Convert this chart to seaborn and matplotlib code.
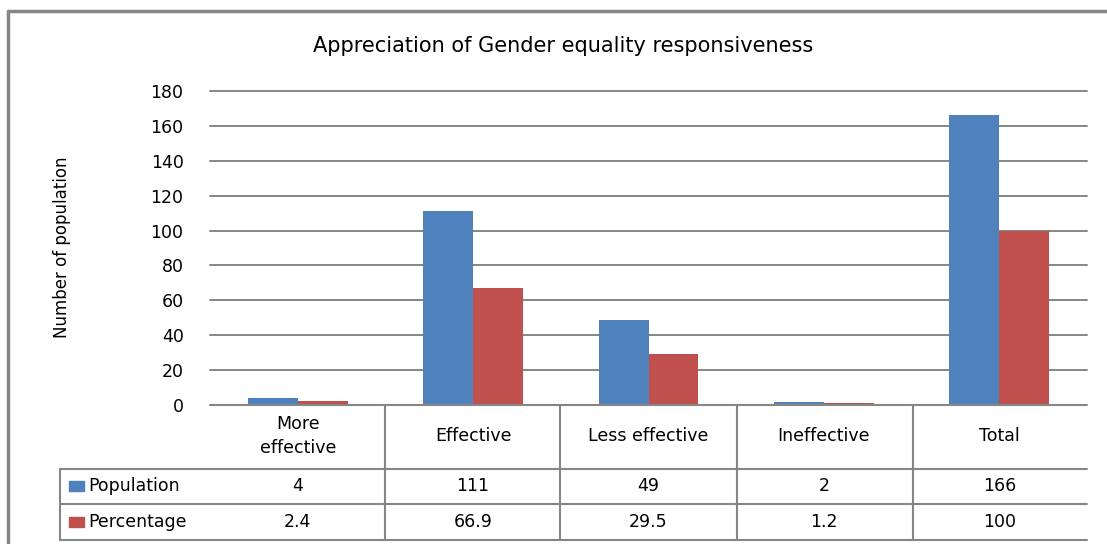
import pandas as pd
import seaborn as sns
import matplotlib
matplotlib.use("Agg")
import matplotlib.pyplot as plt
from matplotlib.lines import Line2D
from matplotlib.patches import Rectangle
import matplotlib.transforms as mtransforms

# Veri
categories = ["More\neffective", "Effective", "Less effective", "Ineffective", "Total"]
population = [4, 111, 49, 2, 166]
percentage = [2.4, 66.9, 29.5, 1.2, 100]
population_labels = ["4", "111", "49", "2", "166"]
percentage_labels = ["2.4", "66.9", "29.5", "1.2", "100"]
series_names = ["Population", "Percentage"]
colors = ["#4F81BD", "#C0504D"]

df = pd.DataFrame({
    "Category": categories * 2,
    "Value": population + percentage,
    "Series": [series_names[0]] * 5 + [series_names[1]] * 5,
})

sns.set_style("white")
plt.rcParams["font.family"] = ["DejaVu Sans"]
plt.rcParams["text.color"] = "black"
plt.rcParams["ytick.color"] = "black"

W, H = 1107, 544
fig = plt.figure(figsize=(W / 100, H / 100), dpi=100)

def fx(x):
    return x / W

def fy(y):
    return 1 - y / H

grid_col = "#868686"

ax = fig.add_axes([fx(210), fy(405), fx(1087) - fx(210), fy(91) - fy(405)])
sns.barplot(data=df, x="Category", y="Value", hue="Series", palette=colors,
            width=0.57, gap=0, saturation=1, legend=False, ax=ax, zorder=3,
            linewidth=0)

ax.set_ylim(0, 180)
ax.set_yticks(range(0, 181, 20))
ax.set_xlim(-0.5, 4.5)
for t in range(20, 181, 20):
    ax.axhline(t, color=grid_col, linewidth=1.4, zorder=0, clip_on=False)
for s in ax.spines.values():
    s.set_visible(False)
ax.tick_params(axis="y", length=0, pad=19, labelsize=12.5, labelcolor="black")
ax.set_xticks(range(5))
ax.set_xticklabels([])
ax.tick_params(axis="x", length=0)
ax.set_xlabel("")
ax.set_ylabel("")

# Başlık ve eksen etiketi
fig.text(fx(563), fy(46), "Appreciation of Gender equality responsiveness",
         ha="center", va="center", fontsize=15, color="black")
fig.text(fx(62), fy(247), "Number of population", rotation=90,
         ha="center", va="center", fontsize=12, color="black")

# Veri tablosu
trans = mtransforms.blended_transform_factory(ax.transData, fig.transFigure)
for i, cat in enumerate(categories):
    ax.text(i, fy(436), cat, transform=trans, ha="center", va="center",
            fontsize=12.5, linespacing=1.4, color="black")
    ax.text(i, fy(486), population_labels[i], transform=trans, ha="center",
            va="center", fontsize=12.5, color="black")
    ax.text(i, fy(522), percentage_labels[i], transform=trans, ha="center",
            va="center", fontsize=12.5, color="black")

def hline(x0, x1, y):
    fig.add_artist(Line2D([fx(x0), fx(x1)], [fy(y), fy(y)], color=grid_col, lw=1.5))

def vline(x, y0, y1):
    fig.add_artist(Line2D([fx(x), fx(x)], [fy(y0), fy(y1)], color=grid_col, lw=1.5))

hline(210, 1087, 405)
for y in [469, 504, 540]:
    hline(60, 1087, y)
vline(60, 469, 540)
for x in [385, 560, 737, 913]:
    vline(x, 405, 540)

for j, (name, c) in enumerate(zip(series_names, colors)):
    yc = [486, 522][j]
    fig.add_artist(Rectangle((fx(69), fy(yc + 5)), fx(15), fy(yc - 5) - fy(yc + 5),
                             transform=fig.transFigure, color=c))
    fig.text(fx(88), fy(yc), name, ha="left", va="center", fontsize=12.5, color="black")

# Dış çerçeve
fig.add_artist(Line2D([fx(8), fx(8)], [fy(11), fy(560)], color=grid_col, lw=2.5))
fig.add_artist(Line2D([fx(8), fx(1120)], [fy(11), fy(11)], color=grid_col, lw=2.5))

fig.savefig("out.png", dpi=100)
